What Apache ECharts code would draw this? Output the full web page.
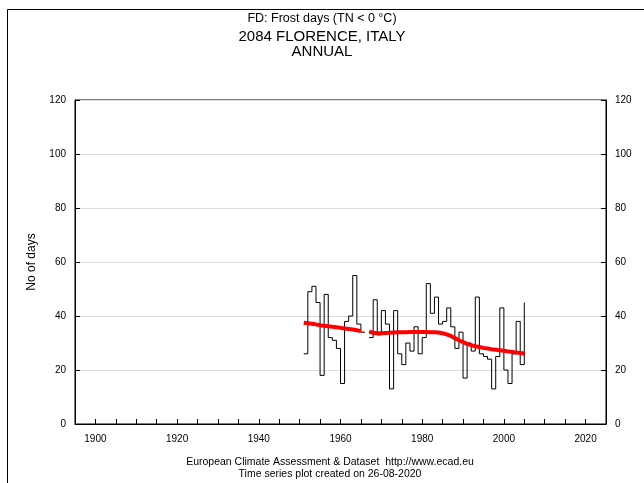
<!DOCTYPE html>
<html><head><meta charset="utf-8">
<script src="https://cdn.jsdelivr.net/npm/echarts@6/dist/echarts.min.js"></script>
<style>html,body{margin:0;padding:0;background:#fff}#c{width:644px;height:483px}</style>
</head><body><div id="c"></div>
<script>
const years = [1951,1952,1953,1954,1955,1956,1957,1958,1959,1960,1961,1962,1963,1964,1965,1966,1967,1968,1969,1970,1971,1972,1973,1974,1975,1976,1977,1978,1979,1980,1981,1982,1983,1984,1985,1986,1987,1988,1989,1990,1991,1992,1993,1994,1995,1996,1997,1998,1999,2000,2001,2002,2003,2004,2005];
const frostDays = [26,49,51,45,18,48,32,31,28,15,38,40,55,37,34,null,32,46,33,42,37,13,42,26,22,30,27,36,26,32,52,41,47,37,38,43,36,28,34,17,30,27,47,26,25,24,13,25,43,20,15,26,38,22,45];
const trend = [37.5,37.3,37.1,36.9,36.6,36.4,36.2,36.0,35.8,35.6,35.4,35.2,35.0,34.7,34.4,null,34.2,33.8,33.6,33.6,33.7,33.8,33.9,34.0,34.0,34.0,34.1,34.1,34.1,34.1,34.1,34.0,34.0,33.9,33.6,33.2,32.6,31.8,31.0,30.3,29.7,29.2,28.8,28.5,28.2,28.0,27.7,27.5,27.3,27.1,26.9,26.7,26.5,26.3,26.1];
const xLabelYears = [1900,1920,1940,1960,1980,2000,2020];
const titleLines = ['FD: Frost days (TN < 0 °C)','2084 FLORENCE, ITALY','ANNUAL'];
const footerLines = ['European Climate Assessment & Dataset  http://www.ecad.eu','Time series plot created on 26-08-2020'];
const yName = 'No of days';

const FONT = '"Liberation Sans", Arial, sans-serif';
const chart = echarts.init(document.getElementById('c'), null, {renderer:'canvas'});
const pairs = a => years.map((y,i)=>[y,a[i]]);
const yAxisBase = {
  type:'value', min:0, max:120, interval:20,
  axisLine:{show:true, lineStyle:{color:'#000', width:1}},
  axisTick:{show:true, inside:true, length:5, lineStyle:{color:'#000'}},
  axisLabel:{color:'#000', fontSize:10, fontFamily:FONT, margin:9}
};
chart.setOption({
  animation:false,
  backgroundColor:'#fff',
  grid:{left:75, right:38, top:100, bottom:59, show:true, borderColor:'#000', borderWidth:1, backgroundColor:'#fff'},
  xAxis:{
    type:'value', min:1895, max:2025, interval:5,
    axisLine:{show:true, lineStyle:{color:'#000'}},
    axisTick:{show:true, inside:true, length:5, lineStyle:{color:'#000'}},
    axisLabel:{color:'#000', fontSize:10, fontFamily:FONT, margin:10,
      formatter:v => xLabelYears.indexOf(v) >= 0 ? String(v) : ''},
    splitLine:{show:false}
  },
  yAxis:[
    Object.assign({}, yAxisBase, {position:'left',
      name:yName, nameLocation:'middle', nameGap:37, nameRotate:90,
      nameTextStyle:{color:'#000', fontSize:12, fontFamily:FONT},
      splitLine:{show:true, lineStyle:{color:'#dcdcdc', width:1}}}),
    Object.assign({}, yAxisBase, {position:'right', splitLine:{show:false}})
  ],
  series:[
    {type:'line', data:pairs(frostDays), step:'end', showSymbol:false, symbol:'none',
     connectNulls:false, lineStyle:{color:'#000', width:1}, z:2},
    {type:'line', data:pairs(trend), showSymbol:false, symbol:'none',
     connectNulls:false, lineStyle:{color:'#ff0000', width:4}, z:3}
  ],
  graphic:[
    {type:'rect', shape:{x:7.5, y:9.5, width:800, height:600}, style:{fill:null, stroke:'#000', lineWidth:1}, silent:true},
    {type:'text', x:322, y:19, style:{text:titleLines[0], font:'12.5px '+FONT, fill:'#000', textAlign:'center', textVerticalAlign:'middle'}},
    {type:'text', x:322, y:37, style:{text:titleLines[1], font:'15px '+FONT, fill:'#000', textAlign:'center', textVerticalAlign:'middle'}},
    {type:'text', x:322, y:52, style:{text:titleLines[2], font:'15px '+FONT, fill:'#000', textAlign:'center', textVerticalAlign:'middle'}},
    {type:'text', x:330, y:462, style:{text:footerLines[0], font:'10.5px '+FONT, fill:'#000', textAlign:'center', textVerticalAlign:'middle'}},
    {type:'text', x:330, y:474, style:{text:footerLines[1], font:'10.5px '+FONT, fill:'#000', textAlign:'center', textVerticalAlign:'middle'}}
  ]
});
</script></body></html>
